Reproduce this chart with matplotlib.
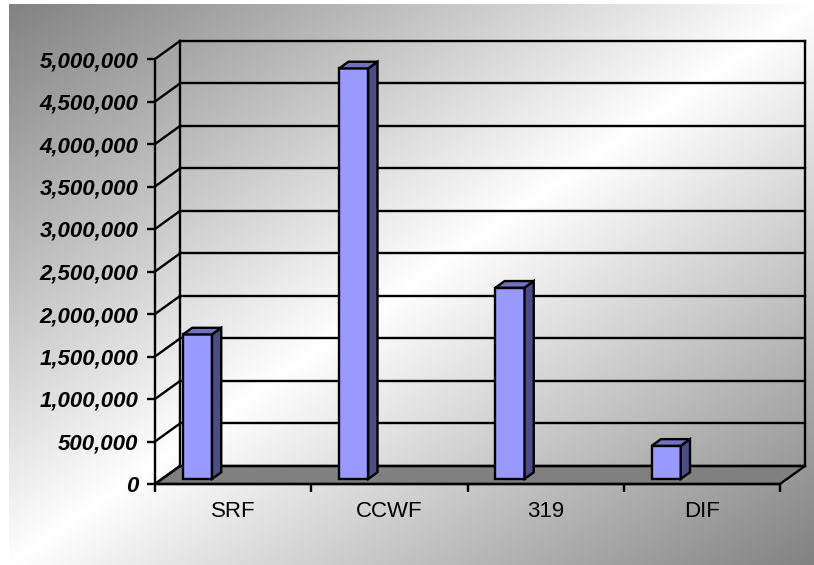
import numpy as np
import matplotlib
matplotlib.use("Agg")
import matplotlib.pyplot as plt
from matplotlib.patches import Polygon

# data
categories = ["SRF", "CCWF", "319", "DIF"]
amounts = [1700000, 4830000, 2250000, 390000]
y_ticks = [0, 500000, 1000000, 1500000, 2000000, 2500000,
           3000000, 3500000, 4000000, 4500000, 5000000]

W, H = 814, 565
DEPTH_X = 0.16        # wall depth in category units
DEPTH_Y = 212000      # wall depth in value units
BAR_LEFT = 0.134
BAR_W = 0.186
F0, F1 = 0.28, 0.65   # bar front/back position inside the depth

FRONT = "#9999ff"
SIDE = "#4d4d85"
TOP = "#7272c2"


def background(fig):
    bg = fig.add_axes([0, 0, 1, 1], zorder=-10)
    bg.set_xlim(0, W)
    bg.set_ylim(H, 0)
    bg.axis("off")
    u = np.linspace(0, 1, 400)
    v = np.linspace(0, 1, 300)
    uu, vv = np.meshgrid(u, v)
    t = (uu + vv) / 2
    light = 1 - np.abs(2 * t - 1)
    val = 0.51 + 0.49 * light
    img = np.dstack([val, val, val])
    bg.imshow(img, extent=[9, W, H, 4], aspect="auto", interpolation="bilinear")


def main():
    fig = plt.figure(figsize=(W / 100, H / 100), dpi=100)
    fig.patch.set_facecolor("white")
    background(fig)

    ax = fig.add_axes([155 / W, (H - 484) / H, 625 / W, 425 / H])
    ax.patch.set_alpha(0)
    n = len(categories)
    ax.set_xlim(0, n)
    ax.set_ylim(0, 5000000)

    lw = 1.7
    # floor
    ax.add_patch(Polygon([(0, 0), (n, 0), (n + DEPTH_X, DEPTH_Y), (DEPTH_X, DEPTH_Y)],
                         closed=True, facecolor="#808080", edgecolor="black",
                         lw=lw, clip_on=False, zorder=1))
    # walls gridlines
    for v in y_ticks:
        ax.plot([0, DEPTH_X], [v, v + DEPTH_Y], color="black", lw=lw,
                clip_on=False, zorder=1)
        ax.plot([DEPTH_X, n + DEPTH_X], [v + DEPTH_Y, v + DEPTH_Y], color="black",
                lw=lw, clip_on=False, zorder=1)
    for xe in (DEPTH_X, n + DEPTH_X):
        ax.plot([xe, xe], [DEPTH_Y, y_ticks[-1] + DEPTH_Y], color="black", lw=lw,
                clip_on=False, zorder=1)

    # bars
    xl = np.arange(n) + BAR_LEFT + F0 * DEPTH_X
    base = F0 * DEPTH_Y
    ddx = (F1 - F0) * DEPTH_X
    ddy = (F1 - F0) * DEPTH_Y
    ax.bar(xl, amounts, width=BAR_W, bottom=base, align="edge", color=FRONT,
           edgecolor="black", lw=lw, zorder=3, clip_on=False)
    for x0, val in zip(xl, amounts):
        top = base + val
        ax.add_patch(Polygon([(x0 + BAR_W, base), (x0 + BAR_W + ddx, base + ddy),
                              (x0 + BAR_W + ddx, top + ddy), (x0 + BAR_W, top)],
                             closed=True, facecolor=SIDE, edgecolor="black", lw=lw,
                             zorder=3, clip_on=False))
        ax.add_patch(Polygon([(x0, top), (x0 + BAR_W, top),
                              (x0 + BAR_W + ddx, top + ddy), (x0 + ddx, top + ddy)],
                             closed=True, facecolor=TOP, edgecolor="black", lw=lw,
                             zorder=3, clip_on=False))

    # axes
    for s in ("top", "right"):
        ax.spines[s].set_visible(False)
    for s in ("left", "bottom"):
        ax.spines[s].set_linewidth(lw)
        ax.spines[s].set_zorder(4)
    ax.set_yticks(y_ticks)
    ax.set_yticklabels([f"{v:,}" for v in y_ticks], fontsize=16, fontweight="bold",
                       fontstyle="italic", family="Liberation Sans")
    ax.tick_params(axis="y", direction="out", length=5.5, width=lw, pad=6.5)
    ax.set_xticks(np.arange(n + 1))
    ax.set_xticklabels([])
    ax.tick_params(axis="x", which="major", direction="out", length=6, width=lw)
    ax.set_xticks(np.arange(n) + 0.5, minor=True)
    ax.set_xticklabels(categories, minor=True, fontsize=16, family="Liberation Sans")
    ax.tick_params(axis="x", which="minor", length=0, pad=12.5)

    fig.savefig("out.png", dpi=100)


if __name__ == "__main__":
    main()
